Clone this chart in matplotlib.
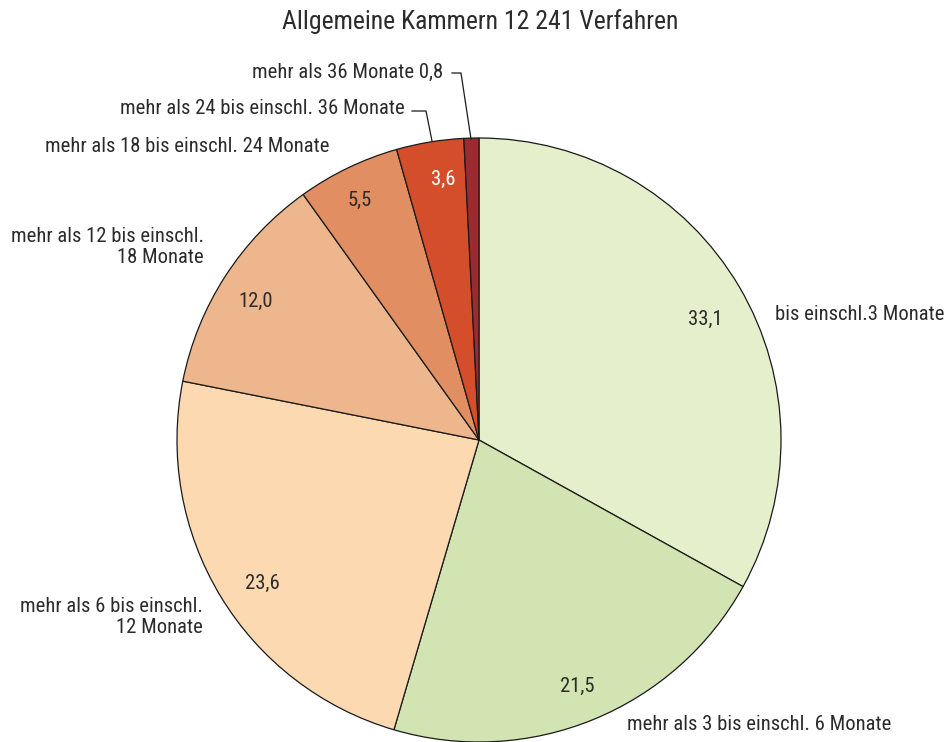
import numpy as np
import matplotlib
matplotlib.use("Agg")
import matplotlib.pyplot as plt
from matplotlib import font_manager as fm

# ---- data ----
categories = [
    "bis einschl.3 Monate",
    "mehr als 3 bis einschl. 6 Monate",
    "mehr als 6 bis einschl.\n12 Monate",
    "mehr als 12 bis einschl.\n18 Monate",
    "mehr als 18 bis einschl. 24 Monate",
    "mehr als 24 bis einschl. 36 Monate",
    "mehr als 36 Monate",
]
values = [33.1, 21.5, 23.6, 12.0, 5.5, 3.6, 0.8]
value_labels = ["33,1", "21,5", "23,6", "12,0", "5,5", "3,6", "0,8"]
colors = ["#e5efcc", "#d1e4b1", "#fdd9b2", "#edb68c", "#e18f62", "#d44e2b", "#9c2a31"]
title = "Allgemeine Kammern 12 241 Verfahren"

names = {f.name for f in fm.fontManager.ttflist}
fam = [f for f in ["Roboto Condensed", "Liberation Sans Narrow", "Liberation Sans"] if f in names] + ["DejaVu Sans"]
plt.rcParams["font.family"] = fam

W, H = 946, 742
fig = plt.figure(figsize=(W / 100, H / 100), dpi=100)
ax = fig.add_axes([0, 0, 1, 1])

def Y(y):
    return H - y

cx, cy, R = 479, Y(440), 302
wedges, _ = ax.pie(values, colors=colors, startangle=90, counterclock=False,
                   center=(cx, cy), radius=R, frame=True,
                   wedgeprops=dict(edgecolor="#1a1a1a", linewidth=0.9))
ax.set_xlim(0, W)
ax.set_ylim(0, H)
ax.set_aspect("equal")
ax.axis("off")

txt = "#2b2b2b"
fs = 14.9
# value labels inside slices: (radius factor, angle shift in degrees)
label_pos = [(0.85, -2.5), (0.88, -0.5), (0.86, 2.3), (0.87, 1.0), (0.885, 0.7), (0.87, -1.5)]
for i, w in enumerate(wedges[:-1]):
    rf, da = label_pos[i]
    mid = np.deg2rad((w.theta1 + w.theta2) / 2 + da)
    x = cx + rf * R * np.cos(mid)
    y = cy + rf * R * np.sin(mid)
    ax.text(x, y, value_labels[i], ha="center", va="center", fontsize=fs,
            color="white" if i == 5 else txt)

# category labels
ax.text(775, Y(315), categories[0], ha="left", va="center", fontsize=fs, color=txt)
ax.text(627, Y(724), categories[1], ha="left", va="center", fontsize=fs, color=txt)
ax.text(203, Y(617), categories[2], ha="right", va="center", fontsize=fs, color=txt,
        multialignment="right", linespacing=1.15)
ax.text(204, Y(247), categories[3], ha="right", va="center", fontsize=fs, color=txt,
        multialignment="right", linespacing=1.15)
ax.text(45, Y(146), categories[4], ha="left", va="center", fontsize=fs, color=txt)
ax.text(405, Y(108), categories[5], ha="right", va="center", fontsize=fs, color=txt)
ax.text(443, Y(72), categories[6] + " " + value_labels[6], ha="right", va="center",
        fontsize=fs, color=txt)

# leader lines
ax.plot([412, 426, 432], [Y(111), Y(111), Y(141)], color="#1a1a1a", lw=0.9)
ax.plot([452, 461, 471], [Y(73), Y(73), Y(139)], color="#1a1a1a", lw=0.9)

ax.text(480, Y(22), title, ha="center", va="center", fontsize=18.5, color=txt)

fig.savefig("out.png", dpi=100)
